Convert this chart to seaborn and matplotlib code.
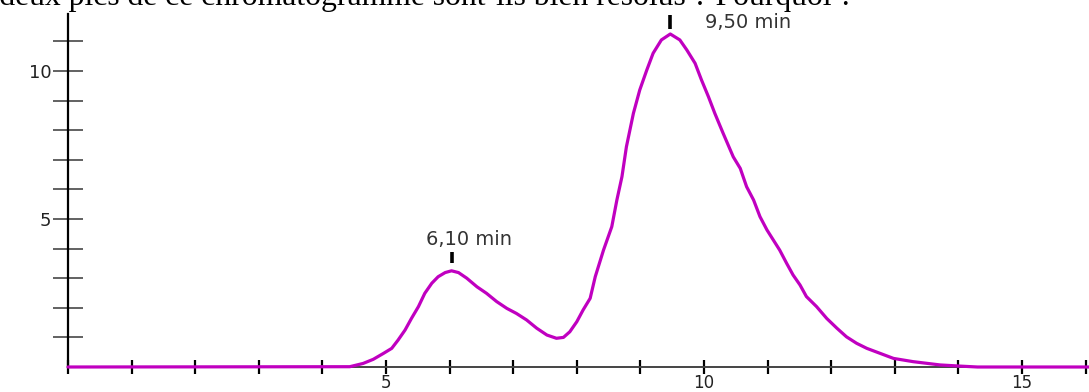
import matplotlib
matplotlib.use("Agg")
import matplotlib.pyplot as plt
import seaborn as sns
import pandas as pd

# ---- data ----
time_min = [0.00, 4.43, 4.64, 4.80, 4.96, 5.09, 5.19, 5.30, 5.40, 5.51, 5.61, 5.72,
            5.82, 5.93, 6.03, 6.14, 6.27, 6.43, 6.58, 6.74, 6.90, 7.05, 7.21, 7.37,
            7.53, 7.68, 7.79, 7.89, 8.00, 8.10, 8.21, 8.29, 8.42, 8.55, 8.63, 8.71,
            8.78, 8.89, 8.99, 9.10, 9.20, 9.33, 9.47, 9.62, 9.73, 9.86, 9.96, 10.07,
            10.17, 10.30, 10.46, 10.57, 10.67, 10.78, 10.88, 10.99, 11.09, 11.19,
            11.30, 11.40, 11.51, 11.61, 11.77, 11.93, 12.09, 12.24, 12.40, 12.56,
            12.77, 12.98, 13.29, 13.71, 14.03, 14.30, 16.05]
signal = [0.00, 0.01, 0.12, 0.26, 0.46, 0.63, 0.91, 1.25, 1.64, 2.04, 2.49, 2.83,
          3.05, 3.19, 3.25, 3.19, 3.00, 2.71, 2.49, 2.21, 1.98, 1.81, 1.59, 1.31,
          1.08, 0.97, 1.00, 1.19, 1.53, 1.93, 2.32, 3.05, 3.95, 4.74, 5.64, 6.43,
          7.44, 8.57, 9.36, 10.03, 10.60, 11.05, 11.25, 11.05, 10.71, 10.26, 9.70,
          9.13, 8.57, 7.90, 7.10, 6.71, 6.09, 5.64, 5.08, 4.63, 4.29, 3.95,
          3.50, 3.11, 2.77, 2.38, 2.04, 1.64, 1.31, 1.02, 0.80, 0.63,
          0.46, 0.29, 0.18, 0.07, 0.03, 0.00, 0.00]

peak_x = [6.04, 9.47]
peak_bar_bottom = [3.51, 11.42]
peak_bar_top = [3.89, 11.89]
peak_labels = ["6,10 min", "9,50 min"]

x_ticks = list(range(0, 17))
x_ticklabels = ["5" if t == 5 else "10" if t == 10 else "15" if t == 15 else "" for t in x_ticks]
y_ticks = list(range(1, 12))
y_ticklabels = ["5" if t == 5 else "10" if t == 10 else "" for t in y_ticks]

title = "Les deux pics de ce chromatogramme sont-ils bien résolus ? Pourquoi ?"

df = pd.DataFrame({"t": time_min, "s": signal})

sns.set_theme(style="white")
plt.rcParams["font.family"] = ["DejaVu Sans"]

fig = plt.figure(figsize=(10.89, 3.92), dpi=100)
W, H = 1089, 392
ax = fig.add_axes([68 / W, (H - 367) / H, (W - 68) / W, (367 - 14) / H])

sns.lineplot(data=df, x="t", y="s", ax=ax, color="#C000C0", linewidth=2.3,
             sort=False, estimator=None)
for ln in ax.lines:
    ln.set_clip_on(False)
    ln.set_zorder(4)

ax.set_xlim(0, (W - 68) / 63.6)
ax.set_ylim(0, (367 - 14) / 29.6)

for s in ["top", "right"]:
    ax.spines[s].set_visible(False)
ax.spines["left"].set_color("black")
ax.spines["left"].set_linewidth(1.6)
ax.spines["bottom"].set_color("#444444")
ax.spines["bottom"].set_linewidth(1.4)

ax.set_xticks(x_ticks)
ax.set_xticklabels(x_ticklabels)
ax.set_yticks(y_ticks)
ax.set_yticklabels(y_ticklabels)
ax.tick_params(axis="x", direction="inout", length=9.5, width=1.6, color="black",
               pad=0.4, labelsize=12, labelcolor="#222222", bottom=True)
ax.tick_params(axis="y", direction="inout", length=21, width=1.3, color="#555555",
               pad=1.5, labelsize=13, labelcolor="#222222", left=True)
ax.set_xlabel("")
ax.set_ylabel("")
ax.grid(False)

# peak markers and labels
for px, yb, yt in zip(peak_x, peak_bar_bottom, peak_bar_top):
    ax.plot([px, px], [yb, yt], color="black", linewidth=2.6,
            solid_capstyle="butt", clip_on=False, zorder=5)
ax.text(6.31, 4.12, peak_labels[0], ha="center", va="baseline", fontsize=14,
        color="#333333")
ax.text(10.02, 11.45, peak_labels[1], ha="left", va="baseline", fontsize=14,
        color="#333333", clip_on=False)

fig.text(853 / W, 1 - 5.5 / H, title, ha="right", va="baseline",
         fontfamily="Liberation Serif", fontsize=22.8, color="black")

fig.savefig("out.png", dpi=100, facecolor="white")
